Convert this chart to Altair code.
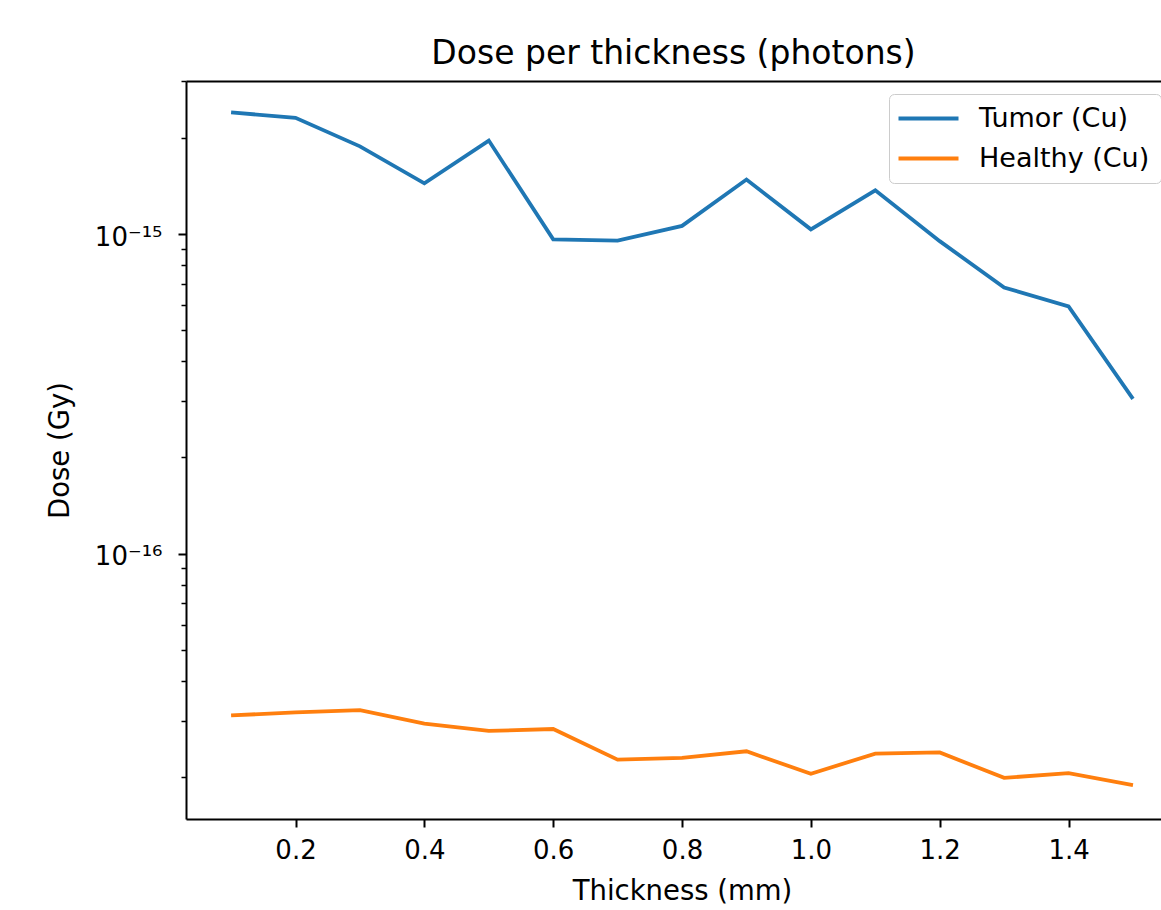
import altair as alt
import pandas as pd

# ---- data ----
thickness = [0.1, 0.2, 0.3, 0.4, 0.5, 0.6, 0.7, 0.8, 0.9, 1.0, 1.1, 1.2, 1.3, 1.4, 1.5]
tumor = [2.40e-15, 2.31e-15, 1.88e-15, 1.44e-15, 1.96e-15, 0.962e-15, 0.953e-15,
         1.06e-15, 1.48e-15, 1.034e-15, 1.37e-15, 0.95e-15, 0.68e-15, 0.594e-15, 0.305e-15]
healthy = [3.12e-17, 3.19e-17, 3.24e-17, 2.94e-17, 2.79e-17, 2.83e-17, 2.27e-17,
           2.30e-17, 2.41e-17, 2.05e-17, 2.37e-17, 2.39e-17, 1.99e-17, 2.06e-17, 1.89e-17]
series_names = ["Tumor (Cu)", "Healthy (Cu)"]
series_colors = ["#1f77b4", "#ff7f0e"]

x_ticks = [0.2, 0.4, 0.6, 0.8, 1.0, 1.2, 1.4]
y_major = [1e-16, 1e-15]
y_major_labels = ["10\u207b\u00b9\u2076", "10\u207b\u00b9\u2075"]
y_minor = [2e-17, 3e-17, 4e-17, 5e-17, 6e-17, 7e-17, 8e-17, 9e-17,
           2e-16, 3e-16, 4e-16, 5e-16, 6e-16, 7e-16, 8e-16, 9e-16,
           2e-15, 3e-15]
# the reference is cropped at the right edge, so the visible x range ends near 1.54
x_domain = [0.03, 1.5435]
y_domain = [1.48e-17, 3.01e-15]

rows = []
for name, vals in zip(series_names, [tumor, healthy]):
    for t, v in zip(thickness, vals):
        rows.append({"thickness": t, "dose": v, "series": name})
df = pd.DataFrame(rows)

FONT = "DejaVu Sans"
major_test = " || ".join(f"datum.value == {v!r}" for v in y_major)
label_expr = " : ".join(f"datum.value == {v!r} ? '{l}'" for v, l in zip(y_major, y_major_labels)) + " : ''"

W, H = 975, 738
xscale = alt.Scale(domain=x_domain, nice=False, zero=False)
yscale = alt.Scale(type="log", domain=y_domain, nice=False)

base = alt.Chart(df)

lines = base.mark_line(strokeWidth=3.8).encode(
    x=alt.X("thickness:Q", scale=xscale,
            axis=alt.Axis(values=x_ticks, format=".1f", title="Thickness (mm)",
                          labelFontSize=26, tickSize=8, tickWidth=2, labelPadding=10,
                          labelFlush=False, grid=False,
                          titleFontSize=27.5, titleY=80, titleBaseline="alphabetic",
                          titleAlign="center", titleX=(992 / 2))),
    y=alt.Y("dose:Q", scale=yscale,
            axis=alt.Axis(values=sorted(y_major + y_minor), labelExpr=label_expr,
                          title="Dose (Gy)", labelFontSize=26, labelPadding=16,
                          labelOffset=3,
                          labelFlush=False, labelOverlap=False, grid=False,
                          tickSize={"condition": {"test": major_test, "value": 8}, "value": 5},
                          tickWidth={"condition": {"test": major_test, "value": 2}, "value": 1.5},
                          titleFontSize=27.5, titleX=-118, titleY=H / 2, titleAngle=-90,
                          titleBaseline="alphabetic", titleAlign="center")),
    color=alt.Color("series:N", sort=series_names,
                    scale=alt.Scale(domain=series_names, range=series_colors),
                    legend=alt.Legend(title=None, orient="none", legendX=703, legendY=13,
                                      padding=11, fillColor="rgba(255,255,255,0.8)",
                                      strokeColor="#cccccc", cornerRadius=5,
                                      labelFontSize=27, labelFont=FONT, labelColor="black",
                                      labelLimit=400,
                                      symbolType="M-1.5,0L4.5,0", symbolSize=400,
                                      symbolStrokeWidth=3.8, labelOffset=52, rowPadding=12)),
)

# top spine (the reference frame is cut off on the right)
top_spine = base.mark_line(strokeOpacity=0).encode(
    x=alt.X("thickness:Q", scale=xscale,
            axis=alt.Axis(orient="top", labels=False, ticks=False, title=None, grid=False,
                          domainColor="black", domainWidth=2)),
    y=alt.Y("dose:Q", scale=yscale, axis=None),
)

chart = alt.layer(lines, top_spine).resolve_axis(
    x="independent", y="independent"
).properties(
    width=W, height=H,
    title=alt.TitleParams("Dose per thickness (photons)", fontSize=33, font=FONT,
                          fontWeight="normal", anchor="middle", offset=0, color="black"),
    autosize=alt.AutoSizeParams(type="none"),
    padding={"left": 186, "top": 81, "right": 0, "bottom": 91},
    background="white",
).configure_view(
    stroke=None
).configure_axis(
    domainColor="black", domainWidth=2, tickColor="black", labelColor="black",
    titleColor="black", labelFont=FONT, titleFont=FONT, titleFontWeight="normal"
)

chart.save("out.html", embed_options={"renderer": "svg", "actions": False})
